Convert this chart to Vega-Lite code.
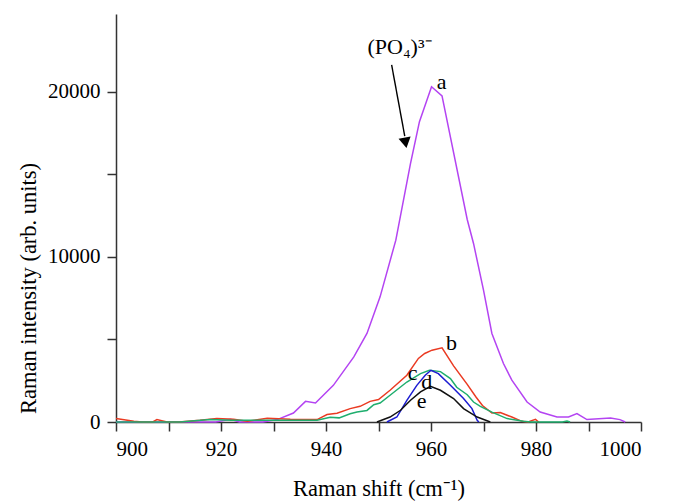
{
  "$schema": "https://vega.github.io/schema/vega-lite/v6.json",
  "autosize": "none",
  "width": 525,
  "height": 408,
  "padding": {"left": 116, "top": 14, "right": 33, "bottom": 79},
  "background": "white",
  "config": {
    "view": {"stroke": null},
    "font": "Liberation Serif",
    "axis": {
      "grid": false,
      "domainColor": "#333333",
      "domainWidth": 1.5,
      "tickColor": "#333333",
      "tickWidth": 1.5,
      "tickSize": 9,
      "labelFont": "Liberation Serif",
      "labelFontSize": 21,
      "labelColor": "black",
      "labelPadding": 7,
      "titleFont": "Liberation Serif",
      "titleFontSize": 22.5,
      "titleFontWeight": "normal",
      "titleColor": "black"
    }
  },
  "datasets": {
    "spectra": [
      {"s": "a", "x": 900, "y": 0}, {"s": "a", "x": 919, "y": 0}, {"s": "a", "x": 921.8, "y": 160}, {"s": "a", "x": 923.5, "y": 0},
      {"s": "a", "x": 928, "y": 0}, {"s": "a", "x": 930.7, "y": 145}, {"s": "a", "x": 933.8, "y": 545}, {"s": "a", "x": 936.1, "y": 1250},
      {"s": "a", "x": 938.0, "y": 1150}, {"s": "a", "x": 941.4, "y": 2220}, {"s": "a", "x": 945.3, "y": 3940}, {"s": "a", "x": 947.8, "y": 5360},
      {"s": "a", "x": 950.3, "y": 7575}, {"s": "a", "x": 953.3, "y": 11010}, {"s": "a", "x": 956.1, "y": 15660}, {"s": "a", "x": 957.8, "y": 18180},
      {"s": "a", "x": 960.1, "y": 20300}, {"s": "a", "x": 962.1, "y": 19740}, {"s": "a", "x": 966.9, "y": 12260}, {"s": "a", "x": 968.1, "y": 10810},
      {"s": "a", "x": 970.0, "y": 7980}, {"s": "a", "x": 971.6, "y": 5360}, {"s": "a", "x": 973.8, "y": 3540}, {"s": "a", "x": 975.4, "y": 2530},
      {"s": "a", "x": 978.3, "y": 1210}, {"s": "a", "x": 980.8, "y": 605}, {"s": "a", "x": 984.0, "y": 300}, {"s": "a", "x": 986.2, "y": 300},
      {"s": "a", "x": 987.8, "y": 510}, {"s": "a", "x": 989.7, "y": 145}, {"s": "a", "x": 994.2, "y": 240}, {"s": "a", "x": 996, "y": 145},
      {"s": "a", "x": 997, "y": 0},
      {"s": "b", "x": 900, "y": 205}, {"s": "b", "x": 903.4, "y": 40}, {"s": "b", "x": 905, "y": 0}, {"s": "b", "x": 907, "y": 0},
      {"s": "b", "x": 907.8, "y": 145}, {"s": "b", "x": 909.7, "y": 0}, {"s": "b", "x": 912, "y": 0}, {"s": "b", "x": 916, "y": 100},
      {"s": "b", "x": 919.2, "y": 205}, {"s": "b", "x": 922.4, "y": 160}, {"s": "b", "x": 925, "y": 50}, {"s": "b", "x": 928.8, "y": 220},
      {"s": "b", "x": 933.2, "y": 160}, {"s": "b", "x": 938.3, "y": 145}, {"s": "b", "x": 940.2, "y": 450}, {"s": "b", "x": 942.1, "y": 530},
      {"s": "b", "x": 944.6, "y": 810}, {"s": "b", "x": 946.5, "y": 950}, {"s": "b", "x": 948.4, "y": 1250}, {"s": "b", "x": 950.0, "y": 1360},
      {"s": "b", "x": 952.2, "y": 1920}, {"s": "b", "x": 955.4, "y": 2830}, {"s": "b", "x": 957.6, "y": 3850}, {"s": "b", "x": 958.8, "y": 4150},
      {"s": "b", "x": 960.2, "y": 4350}, {"s": "b", "x": 962.1, "y": 4490}, {"s": "b", "x": 964.3, "y": 3400}, {"s": "b", "x": 966.9, "y": 2280},
      {"s": "b", "x": 968.6, "y": 1500}, {"s": "b", "x": 969.8, "y": 1000}, {"s": "b", "x": 971.6, "y": 545}, {"s": "b", "x": 973.2, "y": 570},
      {"s": "b", "x": 975.4, "y": 300}, {"s": "b", "x": 977.3, "y": 40}, {"s": "b", "x": 978.5, "y": 0}, {"s": "b", "x": 979.9, "y": 160},
      {"s": "b", "x": 980.5, "y": 0},
      {"s": "c", "x": 900, "y": 0}, {"s": "c", "x": 912.2, "y": 0}, {"s": "c", "x": 915, "y": 80}, {"s": "c", "x": 918, "y": 145},
      {"s": "c", "x": 922, "y": 100}, {"s": "c", "x": 928.8, "y": 100}, {"s": "c", "x": 938.3, "y": 100}, {"s": "c", "x": 940.8, "y": 280},
      {"s": "c", "x": 942.5, "y": 250}, {"s": "c", "x": 944.6, "y": 500}, {"s": "c", "x": 945.9, "y": 600}, {"s": "c", "x": 947.8, "y": 700},
      {"s": "c", "x": 949.1, "y": 1050}, {"s": "c", "x": 950.3, "y": 1150}, {"s": "c", "x": 952.2, "y": 1620}, {"s": "c", "x": 955.4, "y": 2420},
      {"s": "c", "x": 958.0, "y": 2930}, {"s": "c", "x": 959.7, "y": 3130}, {"s": "c", "x": 961.8, "y": 3050}, {"s": "c", "x": 963.7, "y": 2630},
      {"s": "c", "x": 964.9, "y": 2100}, {"s": "c", "x": 966.9, "y": 1650}, {"s": "c", "x": 968.1, "y": 1210}, {"s": "c", "x": 969.4, "y": 950},
      {"s": "c", "x": 971.6, "y": 600}, {"s": "c", "x": 974.5, "y": 205}, {"s": "c", "x": 977.6, "y": 40}, {"s": "c", "x": 979, "y": 0},
      {"s": "c", "x": 985, "y": 0}, {"s": "c", "x": 985.9, "y": 60}, {"s": "c", "x": 986.5, "y": 0},
      {"s": "d", "x": 951.6, "y": 0}, {"s": "d", "x": 953.5, "y": 300}, {"s": "d", "x": 955.4, "y": 1315}, {"s": "d", "x": 957.3, "y": 2220},
      {"s": "d", "x": 958.9, "y": 2830}, {"s": "d", "x": 960, "y": 3130}, {"s": "d", "x": 961.4, "y": 2930}, {"s": "d", "x": 963.7, "y": 2220},
      {"s": "d", "x": 966.2, "y": 1420}, {"s": "d", "x": 967.8, "y": 810}, {"s": "d", "x": 968.8, "y": 100}, {"s": "d", "x": 969.1, "y": 0},
      {"s": "e", "x": 949.7, "y": 0}, {"s": "e", "x": 952.2, "y": 300}, {"s": "e", "x": 954.2, "y": 710}, {"s": "e", "x": 956.1, "y": 1315},
      {"s": "e", "x": 958.0, "y": 1820}, {"s": "e", "x": 959.9, "y": 2160}, {"s": "e", "x": 961.8, "y": 1920}, {"s": "e", "x": 964.3, "y": 1420},
      {"s": "e", "x": 966.2, "y": 810}, {"s": "e", "x": 968.8, "y": 300}, {"s": "e", "x": 971.3, "y": 0}
    ],
    "labels": [
      {"t": "a", "x": 962.0, "y": 20600},
      {"t": "b", "x": 963.9, "y": 4800},
      {"t": "c", "x": 956.5, "y": 2980},
      {"t": "d", "x": 959.2, "y": 2450},
      {"t": "e", "x": 958.2, "y": 1250}
    ],
    "arrow": [
      {"x": 952.5, "y": 21616, "x2": 955.0, "y2": 17300}
    ],
    "head": [
      {"x": 955.15, "y": 16900}
    ],
    "note": [
      {"t": "(PO₄)³⁻", "x": 947.9, "y": 22700}
    ]
  },
  "layer": [
    {
      "data": {"name": "spectra"},
      "mark": {"type": "line", "strokeWidth": 1.5},
      "encoding": {
        "x": {
          "field": "x", "type": "quantitative",
          "scale": {"domain": [900, 1000], "nice": false, "zero": false},
          "axis": {
            "values": [900, 910, 920, 930, 940, 950, 960, 970, 980, 990, 1000],
            "format": "d",
            "labelExpr": "datum.value % 20 === 0 ? datum.label : ''",
            "title": "Raman shift (cm⁻¹)",
            "titleY": 73,
            "titleBaseline": "alphabetic"
          }
        },
        "y": {
          "field": "y", "type": "quantitative",
          "scale": {"domain": [0, 24700], "nice": false},
          "axis": {
            "values": [0, 5000, 10000, 15000, 20000],
            "format": "d",
            "labelExpr": "datum.value % 10000 === 0 ? datum.label : ''",
            "title": "Raman intensity (arb. units)",
            "titleAngle": -90,
            "titleX": -88,
            "titleY": 274,
            "titleAlign": "center",
            "titleBaseline": "middle"
          }
        },
        "color": {
          "field": "s", "type": "nominal",
          "scale": {"domain": ["a", "b", "c", "d", "e"], "range": ["#b444f2", "#ea3a22", "#1fae6e", "#1c1cd2", "#111111"]},
          "legend": null
        },
        "order": {"field": "x", "type": "quantitative"}
      }
    },
    {
      "data": {"name": "labels"},
      "mark": {"type": "text", "fontSize": 22, "font": "Liberation Serif", "color": "black", "baseline": "middle", "align": "center"},
      "encoding": {
        "x": {"field": "x", "type": "quantitative"},
        "y": {"field": "y", "type": "quantitative"},
        "text": {"field": "t"}
      }
    },
    {
      "data": {"name": "arrow"},
      "mark": {"type": "rule", "color": "black", "strokeWidth": 1.4},
      "encoding": {
        "x": {"field": "x", "type": "quantitative"},
        "y": {"field": "y", "type": "quantitative"},
        "x2": {"field": "x2"},
        "y2": {"field": "y2"}
      }
    },
    {
      "data": {"name": "head"},
      "mark": {"type": "point", "shape": "triangle-down", "filled": true, "color": "black", "size": 150, "angle": 349.5, "opacity": 1},
      "encoding": {
        "x": {"field": "x", "type": "quantitative"},
        "y": {"field": "y", "type": "quantitative"}
      }
    },
    {
      "data": {"name": "note"},
      "mark": {"type": "text", "fontSize": 22, "font": "Liberation Serif", "color": "black", "baseline": "middle", "align": "left"},
      "encoding": {
        "x": {"field": "x", "type": "quantitative"},
        "y": {"field": "y", "type": "quantitative"},
        "text": {"field": "t"}
      }
    }
  ]
}
